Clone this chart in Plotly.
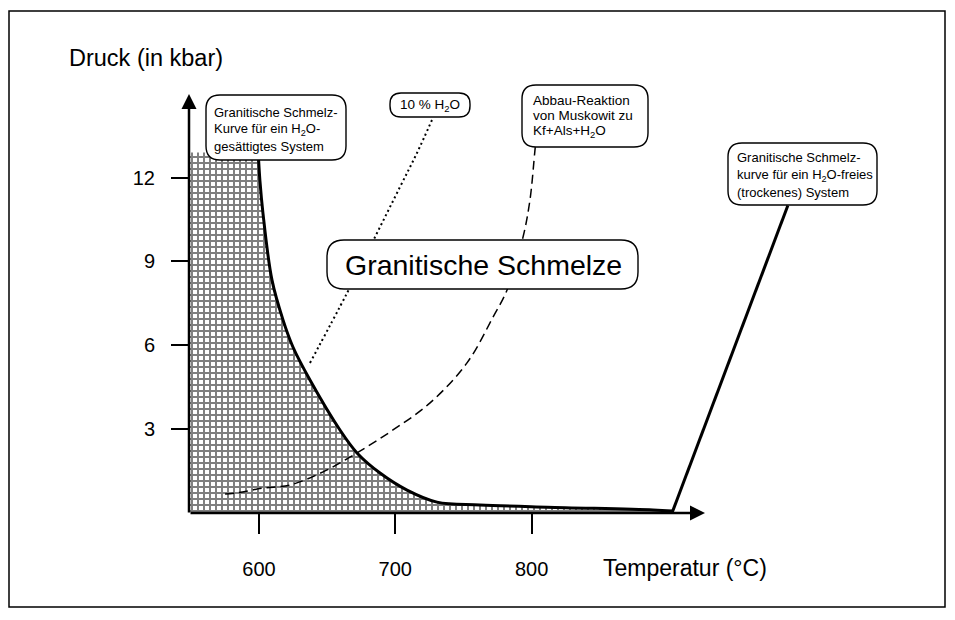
import plotly.graph_objects as go

# ---------------- data ----------------
# H2O-saturated granite solidus (T in degC, P in kbar)
SOLIDUS_T = [599.3, 600.7, 602.9, 609.5, 617.6, 624.9, 637.4, 659.4, 671.9, 688.8,
             708.6, 730.6, 762.1, 811.3, 889.1, 903.0]
SOLIDUS_P = [13.0, 11.87, 10.73, 8.34, 6.91, 5.94, 4.76, 2.97, 2.15, 1.43,
             0.82, 0.39, 0.29, 0.21, 0.11, 0.07]
# 10 % H2O melting curve (dotted)
WATER10_T = [637.4, 664.6, 685.1, 703.4, 715.9, 726.9]
WATER10_P = [5.37, 7.87, 9.87, 11.66, 12.88, 14.06]
# muscovite breakdown Ms -> Kf + Als + H2O (dashed)
MUSC_T = [575.1, 583.9, 602.9, 622.7, 647.0, 671.9, 698.3, 725.5, 752.6, 771.7,
          782.0, 793.7, 798.8, 802.5, 804.0]
MUSC_P = [0.68, 0.72, 0.89, 1.00, 1.47, 2.15, 2.97, 3.94, 5.37, 7.01,
          7.98, 9.87, 11.2, 13.0, 13.7]
# dry granite solidus
DRY_T = [903.0, 988.0]
DRY_P = [0.0, 11.0]
# top of the hatched (solid) field next to the P axis
FIELD_TOP_P = 12.9

X_TICKS = [600, 700, 800]
X_TICK_LABELS = ["600", "700", "800"]
Y_TICKS = [3, 6, 9, 12]
Y_TICK_LABELS = ["3", "6", "9", "12"]

# ---------------- layout geometry ----------------
# the page adds an 8 px body margin on every side, so the figure is smaller
OFF = 8
W, H = 955 - 2 * OFF, 620 - 2 * OFF
PLOT_LEFT_PAGE, PLOT_BOTTOM_PAGE = 189, 513
L = PLOT_LEFT_PAGE - OFF
B = H - (PLOT_BOTTOM_PAGE - OFF)
T = 32
PW = 716
R = W - L - PW
PH = H - T - B
PX_PER_C = 1.363
PX_PER_KBAR = 27.95
X_LO = 600 - (259 - PLOT_LEFT_PAGE) / PX_PER_C
X_HI = X_LO + PW / PX_PER_C
Y_LO = 0.0
Y_HI = PH / PX_PER_KBAR


def dx(px):
    return X_LO + (px - PLOT_LEFT_PAGE) / PX_PER_C


def dy(py):
    return (PLOT_BOTTOM_PAGE - py) / PX_PER_KBAR


def px_(px):
    return (px - PLOT_LEFT_PAGE) / PW


def py_(py):
    return (PLOT_BOTTOM_PAGE - py) / PH


def rounded_box(x0, y0, x1, y1, r):
    pts = [
        f"M {dx(x0 + r)},{dy(y0)}",
        f"L {dx(x1 - r)},{dy(y0)}",
        f"Q {dx(x1)},{dy(y0)} {dx(x1)},{dy(y0 + r)}",
        f"L {dx(x1)},{dy(y1 - r)}",
        f"Q {dx(x1)},{dy(y1)} {dx(x1 - r)},{dy(y1)}",
        f"L {dx(x0 + r)},{dy(y1)}",
        f"Q {dx(x0)},{dy(y1)} {dx(x0)},{dy(y1 - r)}",
        f"L {dx(x0)},{dy(y0 + r)}",
        f"Q {dx(x0)},{dy(y0)} {dx(x0 + r)},{dy(y0)}",
        "Z",
    ]
    return dict(type="path", xref="x", yref="y", path=" ".join(pts),
                line=dict(color="black", width=1.4), fillcolor="white",
                layer="above")


SANS = "Liberation Sans, Arial, Helvetica, sans-serif"

fig = go.Figure()

# hatched field (solid granite, left of the H2O-saturated solidus)
fill_x = [X_LO, X_LO] + SOLIDUS_T + [SOLIDUS_T[-1], X_LO]
fill_y = [0, FIELD_TOP_P] + [min(p, FIELD_TOP_P) for p in SOLIDUS_P] + [0, 0]
fig.add_trace(go.Scatter(
    x=fill_x, y=fill_y, mode="lines", fill="toself",
    fillcolor="white",
    fillpattern=dict(shape="+", fgcolor="black", bgcolor="white", size=6, solidity=0.55),
    line=dict(width=0), hoverinfo="skip", showlegend=False))

fig.add_trace(go.Scatter(x=WATER10_T, y=WATER10_P, mode="lines",
                         line=dict(color="black", width=2, dash="2px,3px", shape="spline"),
                         showlegend=False))
fig.add_trace(go.Scatter(x=MUSC_T, y=MUSC_P, mode="lines",
                         line=dict(color="black", width=1.5, dash="9px,5px", shape="spline"),
                         showlegend=False))
fig.add_trace(go.Scatter(x=SOLIDUS_T, y=SOLIDUS_P, mode="lines",
                         line=dict(color="black", width=3, shape="spline"),
                         showlegend=False))
fig.add_trace(go.Scatter(x=DRY_T, y=DRY_P, mode="lines",
                         line=dict(color="black", width=3),
                         showlegend=False, cliponaxis=False))

shapes = [
    # outer frame
    dict(type="rect", xref="paper", yref="paper",
         x0=px_(9), x1=px_(945), y0=py_(607), y1=py_(11),
         line=dict(color="black", width=1.5), fillcolor="rgba(0,0,0,0)", layer="above"),
    rounded_box(206, 95, 346, 160, 14),
    rounded_box(390, 93, 470, 117, 11),
    rounded_box(522, 85, 648, 147, 14),
    rounded_box(728, 143, 877, 205, 14),
    rounded_box(327, 240, 638, 289, 17),
]

annotations = [
    # axes with arrowheads
    dict(x=dx(705), y=0, ax=dx(189), ay=0, xref="x", yref="y", axref="x", ayref="y",
         text="", showarrow=True, arrowhead=2, arrowsize=1.2, arrowwidth=2.5,
         arrowcolor="black", standoff=0, startstandoff=0),
    dict(x=X_LO, y=dy(94), ax=X_LO, ay=dy(514), xref="x", yref="y", axref="x", ayref="y",
         text="", showarrow=True, arrowhead=2, arrowsize=1.2, arrowwidth=2.5,
         arrowcolor="black", standoff=0, startstandoff=0),
    # axis titles
    dict(x=px_(146), y=py_(58), xref="paper", yref="paper", text="Druck (in kbar)",
         xanchor="center", yanchor="middle",
         showarrow=False, font=dict(family=SANS, size=23.5, color="black")),
    dict(x=px_(685), y=py_(568), xref="paper", yref="paper", text="Temperatur (°C)",
         xanchor="center", yanchor="middle",
         showarrow=False, font=dict(family=SANS, size=23, color="black")),
    # big label
    dict(x=dx(483), y=dy(265), xref="x", yref="y", text="Granitische Schmelze",
         xanchor="center", yanchor="middle",
         showarrow=False, font=dict(family=SANS, size=28.5, color="black")),
    dict(x=dx(430), y=dy(105), xref="x", yref="y", text="10 % H<sub>2</sub>O",
         xanchor="center", yanchor="middle",
         showarrow=False, font=dict(family=SANS, size=13.5, color="black")),
]


def lines_block(x_left, y_centers, texts, size):
    out = []
    for yc, t in zip(y_centers, texts):
        out.append(dict(x=dx(x_left), y=dy(yc), xref="x", yref="y", text=t,
                        xanchor="left", yanchor="middle", showarrow=False,
                        font=dict(family=SANS, size=size, color="black")))
    return out


annotations += lines_block(212, [112, 129, 146],
                           ["Granitische Schmelz-", "Kurve für ein H<sub>2</sub>O-",
                            "gesättigtes System"], 13)
annotations += lines_block(531, [100, 115, 131],
                           ["Abbau-Reaktion", "von Muskowit zu", "Kf+Als+H<sub>2</sub>O"], 13.5)
annotations += lines_block(735, [157, 175, 192],
                           ["Granitische Schmelz-", "kurve für ein H<sub>2</sub>O-freies",
                            "(trockenes) System"], 13)

fig.update_layout(
    width=W, height=H,
    margin=dict(l=L, r=R, t=T, b=B, autoexpand=False),
    paper_bgcolor="white", plot_bgcolor="white",
    showlegend=False,
    shapes=shapes, annotations=annotations,
    xaxis=dict(range=[X_LO, X_HI], showgrid=False, zeroline=False, showline=False,
               tickmode="array", tickvals=X_TICKS, ticktext=X_TICK_LABELS,
               ticks="outside", ticklen=20, tickwidth=2, tickcolor="black",
               ticklabelstandoff=18,
               tickfont=dict(family=SANS, size=20, color="black"), fixedrange=True),
    yaxis=dict(range=[Y_LO, Y_HI], showgrid=False, zeroline=False, showline=False,
               tickmode="array", tickvals=Y_TICKS, ticktext=Y_TICK_LABELS,
               ticks="outside", ticklen=17, tickwidth=2, tickcolor="black",
               ticklabelstandoff=12,
               tickfont=dict(family=SANS, size=20, color="black"), fixedrange=True),
)

fig.write_html("out.html")
